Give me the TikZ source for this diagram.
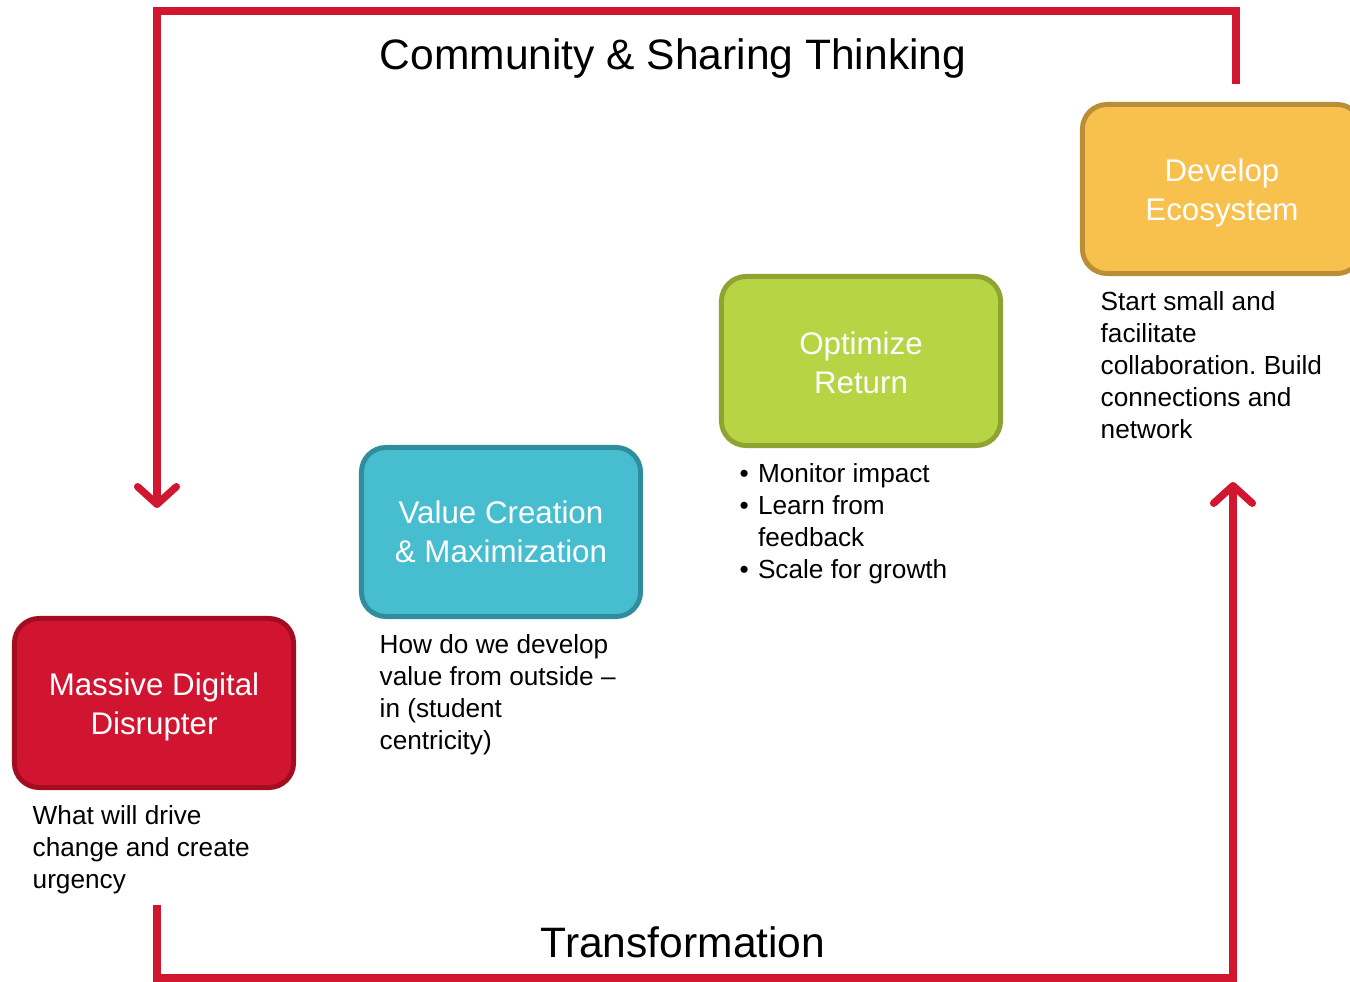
\documentclass[tikz,border=0pt]{standalone}
\usepackage{fontspec}
\setmainfont{Liberation Sans}
\frenchspacing
\usetikzlibrary{positioning,arrows.meta}
\definecolor{loopred}{HTML}{D0172F}
\definecolor{redfill}{HTML}{D11530}
\definecolor{redline}{HTML}{A20D21}
\definecolor{cyanfill}{HTML}{46BECF}
\definecolor{cyanline}{HTML}{2F8D9D}
\definecolor{greenfill}{HTML}{B6D443}
\definecolor{greenline}{HTML}{8FA333}
\definecolor{goldfill}{HTML}{F8C04D}
\definecolor{goldline}{HTML}{B98E36}
\begin{document}
\begin{tikzpicture}[x=0.01cm,y=-0.01cm,
        stage/.style={rectangle,rounded corners=7pt,line width=1.4pt,
            minimum width=2.79cm,minimum height=1.69cm,text=white,
            align=center,font=\fontsize{8.9}{11}\selectfont},
        note/.style={below right=4.2pt and 5.7pt of #1.south west,
            inner sep=0pt,align=left,font=\fontsize{7.45}{9.07}\selectfont},
        loop/.style={draw=loopred,line width=2.1pt},
        head/.style={-{Straight Barb[length=5pt,width=11pt,round]}}]
\useasboundingbox (0,0) rectangle (1350,982);
\clip (0,0) rectangle (1350,982);

\node[stage,fill=redfill,draw=redline] (mdd) at (154,703) {\rule{0pt}{8.5pt}Massive Digital\\Disrupter};
\node[stage,fill=cyanfill,draw=cyanline] (value) at (501,532) {Value Creation\\\& Maximization};
\node[stage,fill=greenfill,draw=greenline] (optim) at (861,361) {\rule{0pt}{7.5pt}Optimize\\Return};
\node[stage,fill=goldfill,draw=goldline] (eco) at (1222,189) {\rule{0pt}{8.5pt}Develop\\Ecosystem};

\node[note=mdd] (mddtxt) {What will drive\\change and create\\urgency};
\node[note=value] (valuetxt) {How do we develop\\value from outside --\\in (student\\centricity)};
\node[note=optim,yshift=0.85pt] (optimtxt) {\begin{tabular}{@{}l@{\hspace{2.6pt}}l@{}}
    \textbullet & Monitor impact\\
    \textbullet & Learn from\\
     & feedback\\
    \textbullet & Scale for growth
    \end{tabular}};
\node[note=eco] (ecotxt) {Start small and\\facilitate\\collaboration. Build\\connections and\\network};

\node[font=\fontsize{12.1}{14}\selectfont] (share) at (673,59) {Community \& Sharing Thinking};
\node[font=\fontsize{12.1}{14}\selectfont] (trans) at (683,942) {Transformation};

% top loop
\coordinate (topstart) at (1236,84);
\coordinate (topright) at (1236,11);
\coordinate (topleft) at (157,11);
\coordinate (topend) at (157,508);
\draw[loop,head] (topstart) -- (topright) -- (topleft) -- (topend);

% bottom loop
\coordinate (botstart) at (157,905);
\coordinate (botleft) at (157,978);
\coordinate (botright) at (1233,978);
\coordinate (botend) at (1233,482);
\draw[loop,head] (botstart) -- (botleft) -- (botright) -- (botend);

\end{tikzpicture}
\end{document}
